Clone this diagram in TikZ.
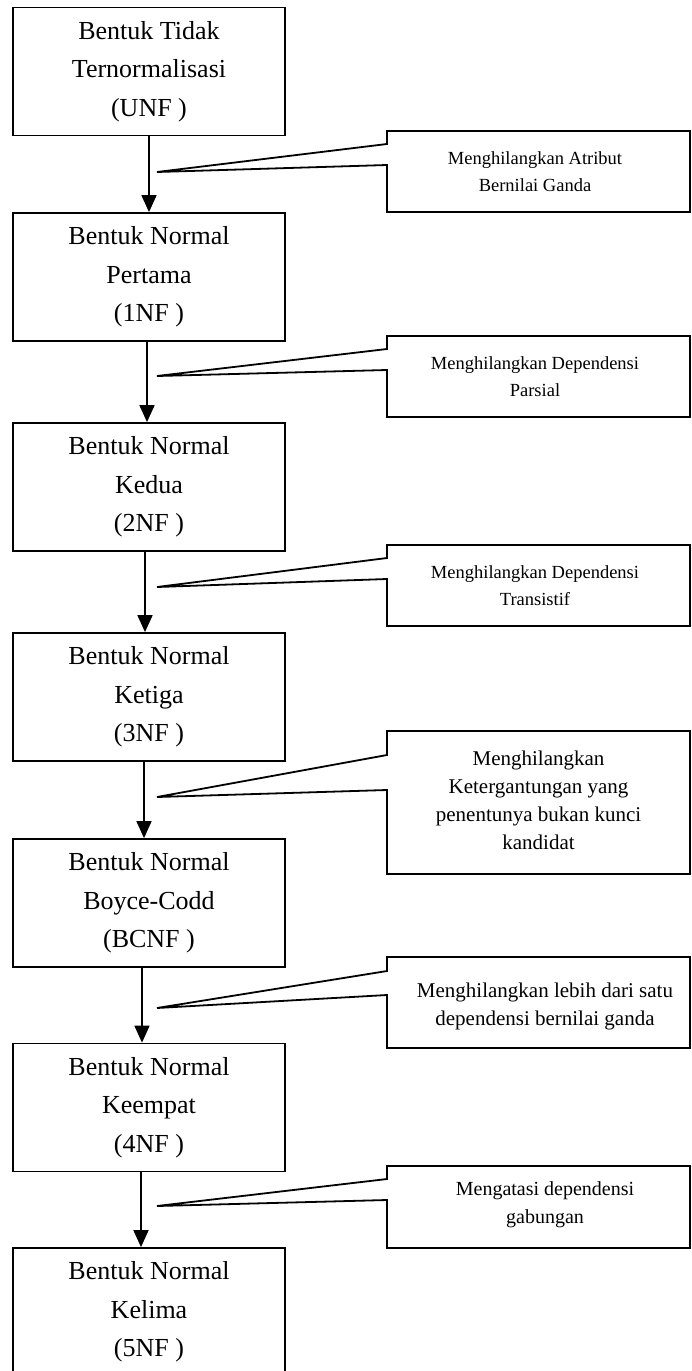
\documentclass[tikz,border=0pt]{standalone}
\usepackage{fontspec}
\setmainfont{Liberation Serif}
\usetikzlibrary{arrows.meta}

\begin{document}
\begin{tikzpicture}[x=1pt, y=-1pt, line width=1.8pt,
    form/.style = {draw, rectangle, align=center, minimum width=272pt, minimum height=128pt, inner sep=0pt, font=\fontsize{26}{38.5}\selectfont},
    note/.style = {align=center, inner sep=0pt, font=\fontsize{18.5}{27}\selectfont},
    bignote/.style = {note, font=\fontsize{21}{28}\selectfont},
    flow/.style = {-{Triangle[length=17pt,width=15pt]}}]
    \useasboundingbox (0,0) rectangle (691,1371);
    \node[form] (unf) at (149,71.5) {Bentuk Tidak\\Ternormalisasi\\(UNF )};
    \node[form] (nf1) at (149,277) {Bentuk Normal\\Pertama\\(1NF )};
    \node[form] (nf2) at (149,487) {Bentuk Normal\\Kedua\\(2NF )};
    \node[form] (nf3) at (149,697) {Bentuk Normal\\Ketiga\\(3NF )};
    \node[form] (bcnf) at (149,903) {Bentuk Normal\\Boyce-Codd\\(BCNF )};
    \node[form] (nf4) at (149,1107.5) {Bentuk Normal\\Keempat\\(4NF )};
    \node[form] (nf5) at (149,1312) {Bentuk Normal\\Kelima\\(5NF )};
    \draw[flow] (unf.south) -- (nf1.north);
    \draw[flow] ([xshift=-2pt]nf1.south) -- ([xshift=-2pt]nf2.north);
    \draw[flow] ([xshift=-4pt]nf2.south) -- ([xshift=-4pt]nf3.north);
    \draw[flow] ([xshift=-5pt]nf3.south) -- ([xshift=-5pt]bcnf.north);
    \draw[flow] ([xshift=-7pt]bcnf.south) -- ([xshift=-7pt]nf4.north);
    \draw[flow] ([xshift=-8pt]nf4.south) -- ([xshift=-8pt]nf5.north);
    \coordinate (p1) at (157,172);
    \coordinate (p2) at (157,376);
    \coordinate (p3) at (157,587);
    \coordinate (p4) at (157,797);
    \coordinate (p5) at (157,1008);
    \coordinate (p6) at (157,1206);
    \draw (p1) -- (387,144) -- (387,131) -- (690,131) -- (690,212) -- (387,212) -- (387,165) -- cycle;
    \draw (p2) -- (387,349) -- (387,336) -- (690,336) -- (690,417) -- (387,417) -- (387,370) -- cycle;
    \draw (p3) -- (387,558) -- (387,545) -- (690,545) -- (690,626) -- (387,626) -- (387,579) -- cycle;
    \draw (p4) -- (387,755) -- (387,731) -- (690,731) -- (690,874) -- (387,874) -- (387,790) -- cycle;
    \draw (p5) -- (387,971) -- (387,957) -- (690,957) -- (690,1048) -- (387,1048) -- (387,995) -- cycle;
    \draw (p6) -- (387,1179) -- (387,1166) -- (690,1166) -- (690,1248) -- (387,1248) -- (387,1200) -- cycle;
    \node[note] (c1) at (535,171.5) {Menghilangkan Atribut\\Bernilai Ganda};
    \node[note] (c2) at (535,376.5) {Menghilangkan Dependensi\\Parsial};
    \node[note] (c3) at (535,585.5) {Menghilangkan Dependensi\\Transistif};
    \node[bignote] (c4) at (538.5,800) {Menghilangkan\\Ketergantungan yang\\penentunya bukan kunci\\kandidat};
    \node[bignote] (c5) at (545,1006) {Menghilangkan lebih dari satu\\dependensi bernilai ganda};
    \node[note, font=\fontsize{20}{28}\selectfont] (c6) at (545,1205) {Mengatasi dependensi\\gabungan};
\end{tikzpicture}
\end{document}
